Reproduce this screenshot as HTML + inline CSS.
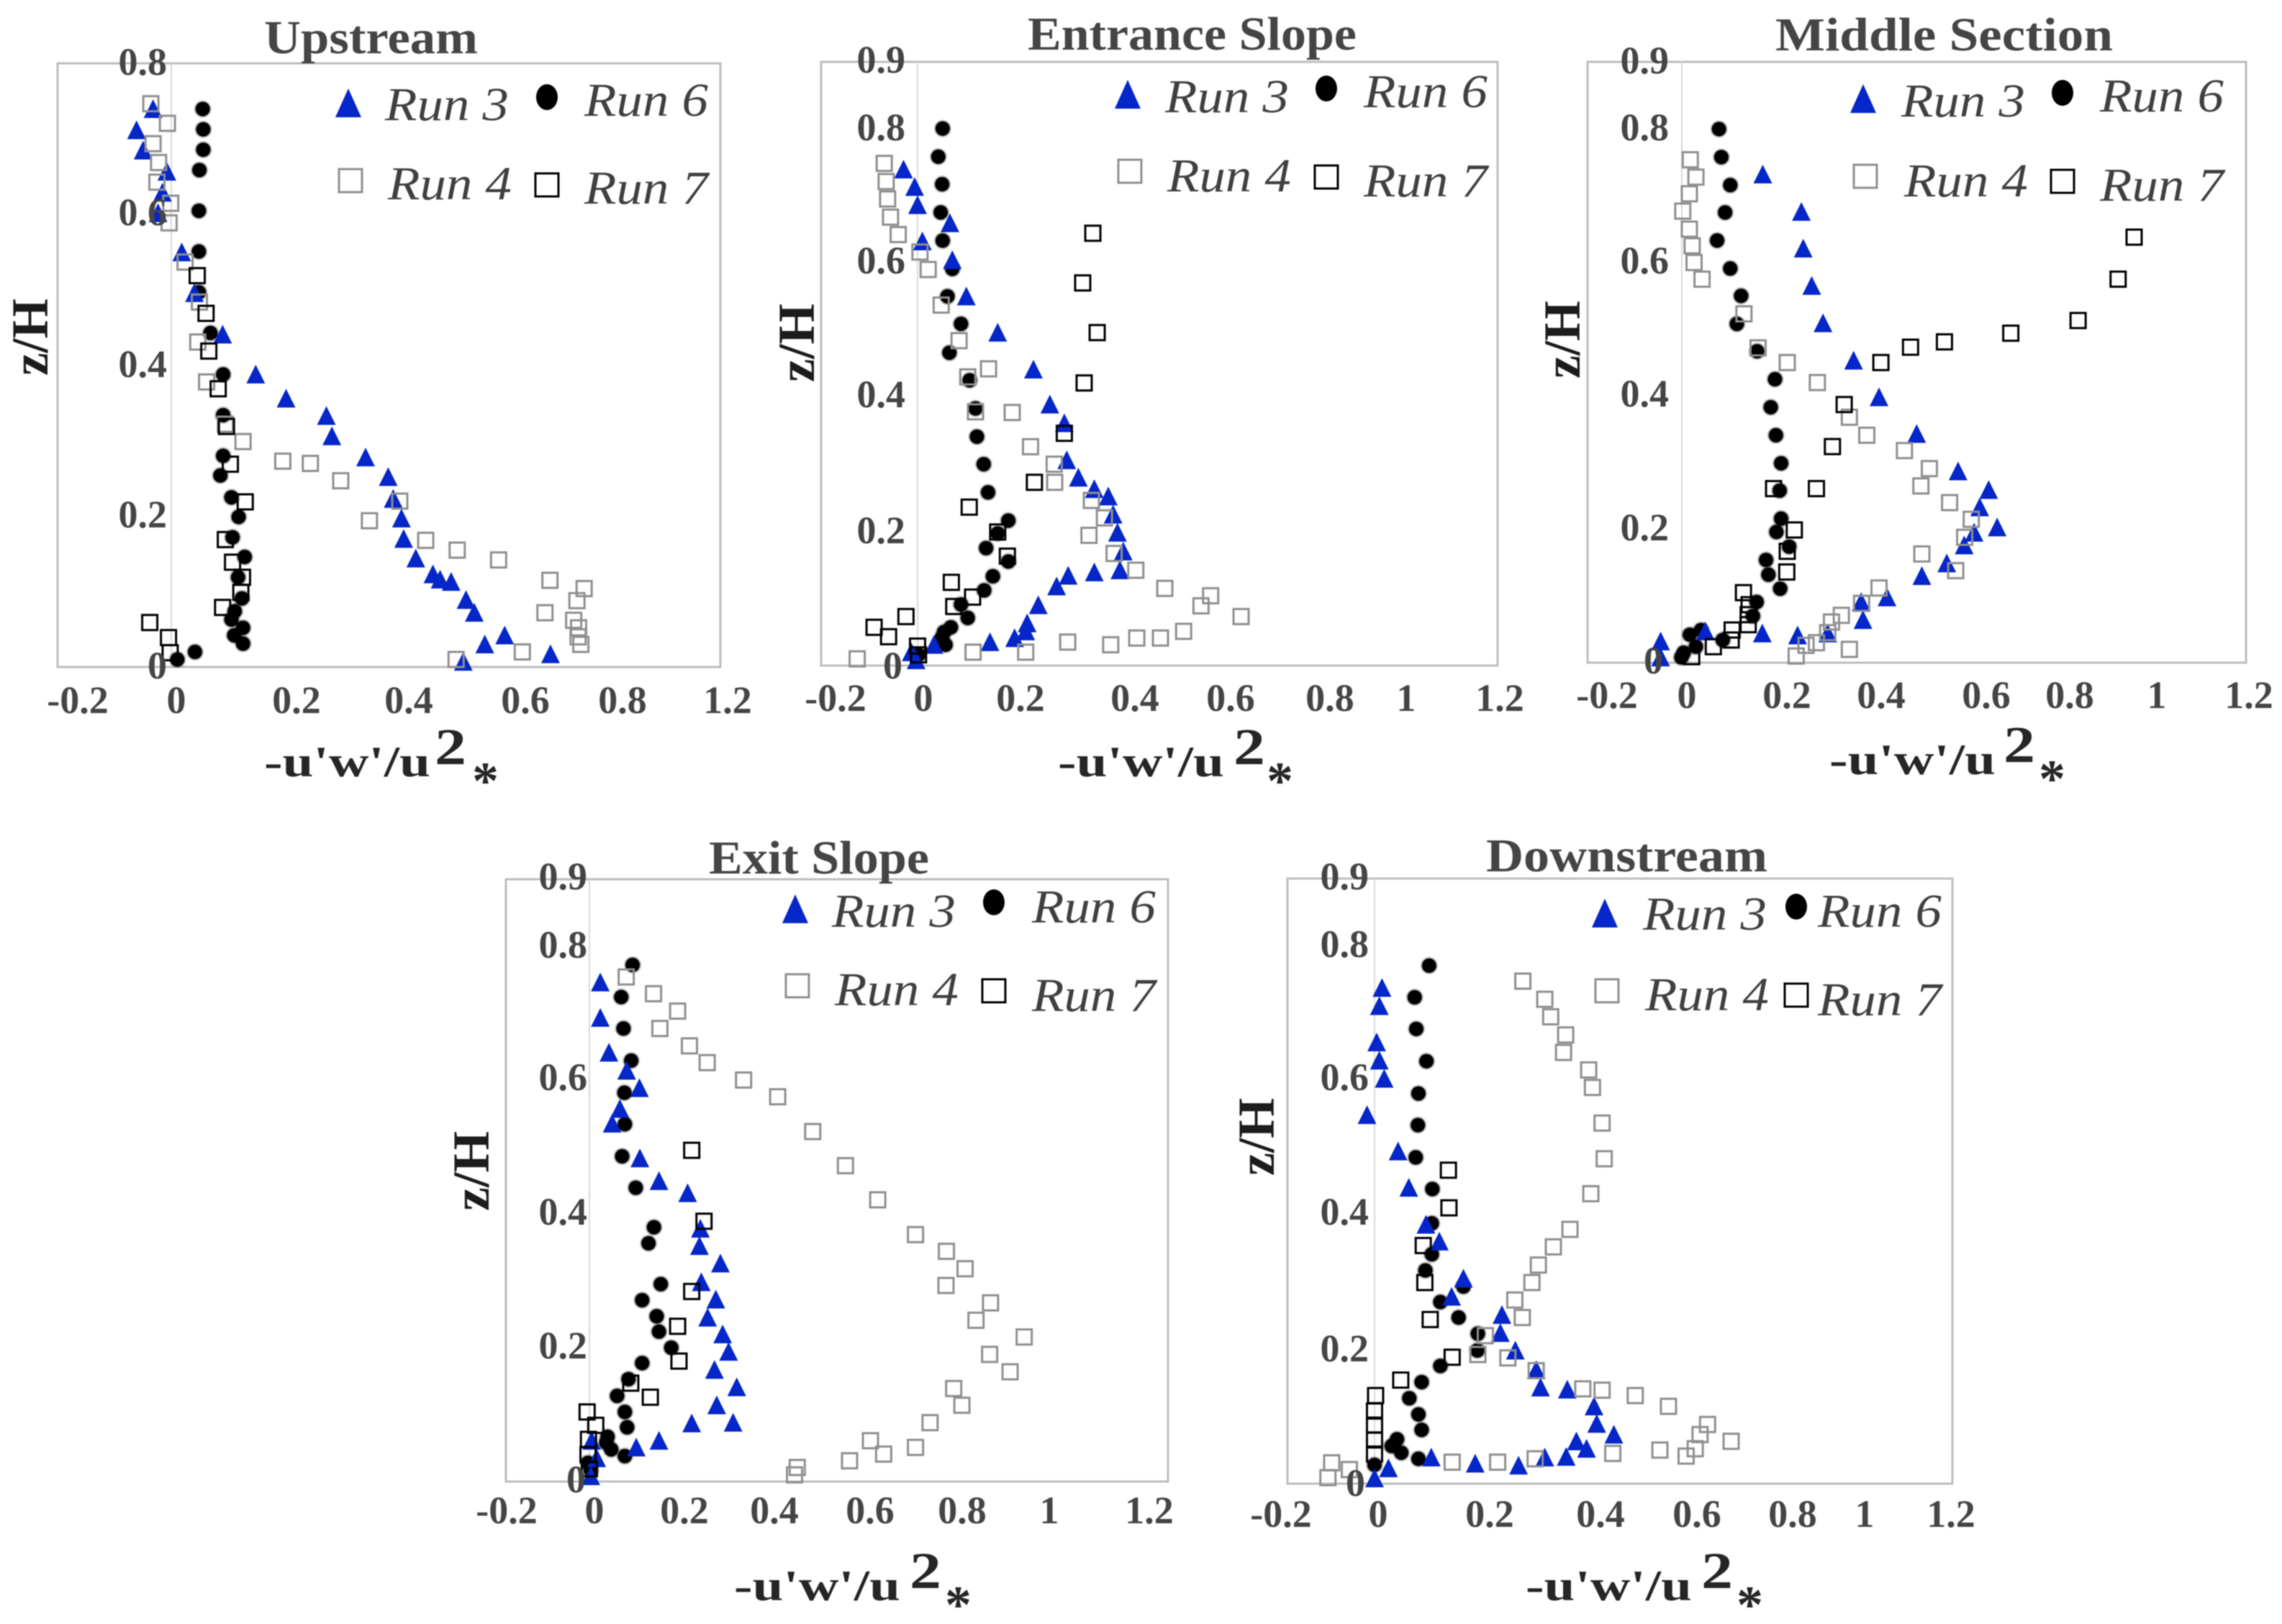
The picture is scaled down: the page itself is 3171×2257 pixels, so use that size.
<!DOCTYPE html>
<html lang="en">
<head>
<meta charset="utf-8">
<title>Reynolds stress profiles</title>
<style>
html,body{margin:0;padding:0;background:#fff;width:3171px;height:2257px;overflow:hidden}
svg{display:block;filter:blur(.8px)}
text{font-family:"Liberation Serif","DejaVu Serif",serif}
.title{font-size:66px;font-weight:700;fill:#454545}
.tick{font-size:54px;font-weight:700;fill:#454545}
.xt{text-anchor:middle}
.yt{text-anchor:end}
.axis{font-size:72px;font-weight:700;fill:#1c1c1c}
.xlab{font-size:60px;font-weight:700;fill:#262626}
.sup{font-size:72px;font-weight:700;fill:#262626}
.star{font-size:74px;font-weight:700;fill:#262626}
.leg{font-size:66px;font-style:italic;fill:#404040}
</style>
</head>
<body>
<svg id="chart" xmlns="http://www.w3.org/2000/svg" width="3171" height="2257" viewBox="0 0 3171 2257">
<rect width="3171" height="2257" fill="#fff"/>
<g id="frames"></g>
<g id="marks"></g>

<g>
<text class="title" x="367" y="74" textLength="297" lengthAdjust="spacingAndGlyphs">Upstream</text>
<text class="axis" transform="translate(66,522) rotate(-90)" textLength="107" lengthAdjust="spacingAndGlyphs">z/H</text>
<text class="xlab" x="367" y="1079" textLength="231" lengthAdjust="spacingAndGlyphs">-u'w'/u</text>
<text class="sup" x="604" y="1062" textLength="44" lengthAdjust="spacingAndGlyphs">2</text>
<text class="star" x="656" y="1110">*</text>
<g class="tick xt"><text x="108" y="991">-0.2</text><text x="245" y="991">0</text><text x="412" y="991">0.2</text><text x="568" y="991">0.4</text><text x="730" y="991">0.6</text><text x="865" y="991">0.8</text><text x="1011" y="991">1.2</text></g>
<g class="tick yt"><text x="232" y="104">0.8</text><text x="232" y="313">0.6</text><text x="232" y="524">0.4</text><text x="232" y="733">0.2</text><text x="232" y="943">0</text></g>
</g>

<g>
<text class="title" x="1428" y="69" textLength="457" lengthAdjust="spacingAndGlyphs">Entrance Slope</text>
<text class="axis" transform="translate(1131,531) rotate(-90)" textLength="109" lengthAdjust="spacingAndGlyphs">z/H</text>
<text class="xlab" x="1470" y="1079" textLength="231" lengthAdjust="spacingAndGlyphs">-u'w'/u</text>
<text class="sup" x="1714" y="1062" textLength="44" lengthAdjust="spacingAndGlyphs">2</text>
<text class="star" x="1760" y="1110">*</text>
<g class="tick xt"><text x="1161" y="988">-0.2</text><text x="1283" y="988">0</text><text x="1418" y="988">0.2</text><text x="1577" y="988">0.4</text><text x="1710" y="988">0.6</text><text x="1848" y="988">0.8</text><text x="1954" y="988">1</text><text x="2084" y="988">1.2</text></g>
<g class="tick yt"><text x="1258" y="101">0.9</text><text x="1258" y="195">0.8</text><text x="1258" y="380">0.6</text><text x="1258" y="566">0.4</text><text x="1258" y="755">0.2</text><text x="1254" y="943">0</text></g>
</g>

<g>
<text class="title" x="2467" y="70" textLength="469" lengthAdjust="spacingAndGlyphs">Middle Section</text>
<text class="axis" transform="translate(2195,526) rotate(-90)" textLength="108" lengthAdjust="spacingAndGlyphs">z/H</text>
<text class="xlab" x="2542" y="1076" textLength="231" lengthAdjust="spacingAndGlyphs">-u'w'/u</text>
<text class="sup" x="2784" y="1059" textLength="44" lengthAdjust="spacingAndGlyphs">2</text>
<text class="star" x="2833" y="1107">*</text>
<g class="tick xt"><text x="2233" y="984">-0.2</text><text x="2344" y="984">0</text><text x="2483" y="984">0.2</text><text x="2614" y="984">0.4</text><text x="2760" y="984">0.6</text><text x="2876" y="984">0.8</text><text x="2997" y="984">1</text><text x="3125" y="984">1.2</text></g>
<g class="tick yt"><text x="2319" y="102">0.9</text><text x="2319" y="195">0.8</text><text x="2319" y="380">0.6</text><text x="2319" y="565">0.4</text><text x="2319" y="751">0.2</text><text x="2311" y="936">0</text></g>
</g>

<g>
<text class="title" x="985" y="1214" textLength="306" lengthAdjust="spacingAndGlyphs">Exit Slope</text>
<text class="axis" transform="translate(679,1683) rotate(-90)" textLength="111" lengthAdjust="spacingAndGlyphs">z/H</text>
<text class="xlab" x="1020" y="2224" textLength="231" lengthAdjust="spacingAndGlyphs">-u'w'/u</text>
<text class="sup" x="1264" y="2207" textLength="44" lengthAdjust="spacingAndGlyphs">2</text>
<text class="star" x="1313" y="2255">*</text>
<g class="tick xt"><text x="704" y="2117">-0.2</text><text x="826" y="2117">0</text><text x="951" y="2117">0.2</text><text x="1076" y="2117">0.4</text><text x="1209" y="2117">0.6</text><text x="1337" y="2117">0.8</text><text x="1458" y="2117">1</text><text x="1597" y="2117">1.2</text></g>
<g class="tick yt"><text x="816" y="1236">0.9</text><text x="816" y="1331">0.8</text><text x="816" y="1515">0.6</text><text x="816" y="1702">0.4</text><text x="816" y="1888">0.2</text><text x="814" y="2074">0</text></g>
</g>

<g>
<text class="title" x="2065" y="1211" textLength="391" lengthAdjust="spacingAndGlyphs">Downstream</text>
<text class="axis" transform="translate(1770,1634) rotate(-90)" textLength="108" lengthAdjust="spacingAndGlyphs">z/H</text>
<text class="xlab" x="2120" y="2224" textLength="231" lengthAdjust="spacingAndGlyphs">-u'w'/u</text>
<text class="sup" x="2364" y="2207" textLength="44" lengthAdjust="spacingAndGlyphs">2</text>
<text class="star" x="2413" y="2255">*</text>
<g class="tick xt"><text x="1780" y="2122">-0.2</text><text x="1915" y="2122">0</text><text x="2070" y="2122">0.2</text><text x="2224" y="2122">0.4</text><text x="2358" y="2122">0.6</text><text x="2491" y="2122">0.8</text><text x="2591" y="2122">1</text><text x="2711" y="2122">1.2</text></g>
<g class="tick yt"><text x="1902" y="1236">0.9</text><text x="1902" y="1330">0.8</text><text x="1902" y="1515">0.6</text><text x="1902" y="1702">0.4</text><text x="1902" y="1892">0.2</text><text x="1897" y="2079">0</text></g>
</g>

<g>
<polygon points="-18,20 0,-20 18,20" transform="translate(484,143)" fill="#0526c8"/>
<text class="leg" x="535" y="167" textLength="172" lengthAdjust="spacingAndGlyphs">Run 3</text>
<ellipse cx="760" cy="135" rx="15" ry="18" fill="#000"/>
<text class="leg" x="812" y="161" textLength="172" lengthAdjust="spacingAndGlyphs">Run 6</text>
<rect x="471" y="235" width="32" height="32" fill="#fff" stroke="#8f8f8f" stroke-width="3"/>
<text class="leg" x="539" y="277" textLength="172" lengthAdjust="spacingAndGlyphs">Run 4</text>
<rect x="744" y="241" width="32" height="32" fill="#fff" stroke="#000" stroke-width="3"/>
<text class="leg" x="812" y="283" textLength="172" lengthAdjust="spacingAndGlyphs">Run 7</text>
</g>
<g>
<polygon points="-18,20 0,-20 18,20" transform="translate(1567,131)" fill="#0526c8"/>
<text class="leg" x="1619" y="156" textLength="172" lengthAdjust="spacingAndGlyphs">Run 3</text>
<ellipse cx="1843" cy="123" rx="15" ry="18" fill="#000"/>
<text class="leg" x="1895" y="149" textLength="172" lengthAdjust="spacingAndGlyphs">Run 6</text>
<rect x="1554" y="222" width="32" height="32" fill="#fff" stroke="#8f8f8f" stroke-width="3"/>
<text class="leg" x="1622" y="266" textLength="172" lengthAdjust="spacingAndGlyphs">Run 4</text>
<rect x="1827" y="230" width="32" height="32" fill="#fff" stroke="#000" stroke-width="3"/>
<text class="leg" x="1895" y="273" textLength="172" lengthAdjust="spacingAndGlyphs">Run 7</text>
</g>
<g>
<polygon points="-18,20 0,-20 18,20" transform="translate(2589,137)" fill="#0526c8"/>
<text class="leg" x="2642" y="162" textLength="172" lengthAdjust="spacingAndGlyphs">Run 3</text>
<ellipse cx="2866" cy="129" rx="15" ry="18" fill="#000"/>
<text class="leg" x="2918" y="155" textLength="172" lengthAdjust="spacingAndGlyphs">Run 6</text>
<rect x="2576" y="229" width="32" height="32" fill="#fff" stroke="#8f8f8f" stroke-width="3"/>
<text class="leg" x="2646" y="273" textLength="172" lengthAdjust="spacingAndGlyphs">Run 4</text>
<rect x="2850" y="236" width="32" height="32" fill="#fff" stroke="#000" stroke-width="3"/>
<text class="leg" x="2918" y="279" textLength="172" lengthAdjust="spacingAndGlyphs">Run 7</text>
</g>
<g>
<polygon points="-18,20 0,-20 18,20" transform="translate(1105,1263)" fill="#0526c8"/>
<text class="leg" x="1156" y="1288" textLength="172" lengthAdjust="spacingAndGlyphs">Run 3</text>
<ellipse cx="1381" cy="1254" rx="15" ry="18" fill="#000"/>
<text class="leg" x="1434" y="1282" textLength="172" lengthAdjust="spacingAndGlyphs">Run 6</text>
<rect x="1092" y="1354" width="32" height="32" fill="#fff" stroke="#8f8f8f" stroke-width="3"/>
<text class="leg" x="1160" y="1397" textLength="172" lengthAdjust="spacingAndGlyphs">Run 4</text>
<rect x="1365" y="1361" width="32" height="32" fill="#fff" stroke="#000" stroke-width="3"/>
<text class="leg" x="1434" y="1405" textLength="172" lengthAdjust="spacingAndGlyphs">Run 7</text>
</g>
<g>
<polygon points="-18,20 0,-20 18,20" transform="translate(2230,1269)" fill="#0526c8"/>
<text class="leg" x="2283" y="1292" textLength="172" lengthAdjust="spacingAndGlyphs">Run 3</text>
<ellipse cx="2496" cy="1260" rx="15" ry="18" fill="#000"/>
<text class="leg" x="2526" y="1288" textLength="172" lengthAdjust="spacingAndGlyphs">Run 6</text>
<rect x="2217" y="1361" width="32" height="32" fill="#fff" stroke="#8f8f8f" stroke-width="3"/>
<text class="leg" x="2286" y="1404" textLength="172" lengthAdjust="spacingAndGlyphs">Run 4</text>
<rect x="2480" y="1367" width="32" height="32" fill="#fff" stroke="#000" stroke-width="3"/>
<text class="leg" x="2526" y="1411" textLength="172" lengthAdjust="spacingAndGlyphs">Run 7</text>
</g>
</svg>

<script>
const upstreamRun3X=[-.033,-.063,-.051,-.008,-.016,-.024,.019,.042,.093,.153,.208,.281,.291,.352,.393,.402,.417,.421,.443,.474,.487,.507,.534,.549,.568,.604,.687,.529];
const upstreamRun3Z=[.740,.712,.685,.657,.629,.602,.550,.496,.441,.388,.356,.333,.306,.278,.252,.223,.197,.170,.144,.123,.116,.113,.089,.072,.030,.042,.017,.007];
const upstreamRun4X=[-.037,-.007,-.033,-.023,-.026,-.001,-.004,.025,.051,.048,.064,.098,.130,.202,.252,.307,.414,.359,.461,.518,.593,.686,.748,.735,.677,.729,.738,.737,.742,.636,.516];
const upstreamRun4Z=[.747,.721,.694,.669,.643,.615,.589,.537,.484,.431,.378,.322,.299,.273,.270,.247,.220,.194,.168,.155,.142,.115,.104,.088,.072,.062,.052,.040,.030,.020,.010];
const upstreamRun6X=[.057,.058,.058,.051,.050,.050,.050,.071,.094,.094,.094,.089,.109,.122,.111,.133,.121,.128,.115,.109,.130,.114,.130,.043,.011];
const upstreamRun6Z=[.740,.713,.686,.659,.605,.551,.497,.443,.388,.334,.280,.254,.225,.199,.172,.146,.119,.091,.074,.063,.052,.042,.031,.020,.010];
const upstreamRun7X=[.047,.063,.068,.085,.100,.107,.134,.098,.111,.129,.126,.093,-.039,-.005,-.002];
const upstreamRun7Z=[.519,.469,.419,.369,.319,.269,.219,.169,.139,.119,.099,.079,.059,.039,.019];

const entranceRun3X=[-.029,-.006,0,.067,.010,.072,.101,.166,.240,.274,.304,.309,.333,.366,.395,.405,.414,.426,.419,.366,.312,.288,.250,.227,.224,.201,.150,.034,-.013,-.003];
const entranceRun3Z=[.739,.713,.686,.659,.632,.604,.550,.496,.441,.389,.361,.306,.280,.263,.252,.225,.198,.170,.142,.139,.134,.118,.090,.063,.051,.041,.035,.031,.020,.008];
const entranceRun4X=[-.069,-.065,-.062,-.056,-.040,.005,.022,.049,.086,.104,.147,.120,.196,.234,.283,.284,.360,.387,.355,.407,.452,.512,.607,.587,.670,.551,.503,.454,.400,.311,.224,.115,-.125];
const entranceRun4Z=[.748,.721,.695,.668,.642,.616,.590,.537,.484,.430,.442,.378,.377,.326,.300,.273,.246,.220,.194,.167,.142,.115,.104,.089,.073,.051,.041,.041,.031,.035,.020,.020,.010];
const entranceRun6X=[.052,.043,.051,.048,.052,.072,.062,.090,.066,.108,.120,.123,.137,.146,.188,.166,.142,.188,.156,.138,.090,.104,.069,.055,.050,.058,.002];
const entranceRun6Z=[.800,.758,.717,.675,.633,.591,.550,.509,.466,.425,.383,.341,.300,.258,.216,.197,.175,.155,.133,.112,.091,.071,.057,.050,.041,.031,.016];
const entranceRun7X=[.363,.342,.372,.345,.304,.242,.107,.166,.186,.070,.114,.075,-.024,-.090,-.060,0,.002];
const entranceRun7Z=[.644,.570,.496,.421,.346,.273,.236,.199,.163,.124,.102,.088,.073,.057,.043,.029,.016];

const middleRun3X=[.172,.254,.258,.276,.300,.365,.419,.499,.587,.652,.633,.670,.621,.600,.563,.510,.436,.381,.385,.310,.246,.171,.050,-.045,-.045];
const middleRun3Z=[.732,.676,.621,.565,.509,.453,.398,.343,.287,.259,.233,.203,.195,.176,.149,.130,.098,.091,.064,.044,.041,.044,.047,.032,.008];
const middleRun4X=[.018,.030,.016,.002,.016,.022,.026,.043,.132,.162,.224,.288,.356,.393,.473,.526,.508,.569,.615,.601,.510,.582,.419,.382,.339,.318,.310,.286,.264,.243,.356];
const middleRun4Z=[.754,.728,.703,.677,.650,.625,.600,.575,.523,.472,.450,.420,.368,.341,.318,.291,.265,.240,.215,.188,.163,.138,.112,.089,.071,.061,.045,.030,.026,.010,.020];
const middleRun6X=[.079,.084,.103,.092,.075,.103,.126,.117,.160,.198,.189,.200,.211,.208,.211,.201,.228,.179,.184,.209,.159,.151,.087,.041,.017,.030,.004,-.001];
const middleRun6Z=[.800,.758,.716,.675,.633,.591,.550,.508,.467,.425,.383,.341,.299,.258,.216,.196,.174,.154,.132,.111,.091,.070,.034,.049,.042,.024,.015,.008];
const middleRun7X=[.961,.927,.842,.699,.558,.486,.423,.345,.320,.286,.195,.239,.224,.223,.131,.143,.141,.141,.107,.105,.067,.021];
const middleRun7Z=[.638,.575,.513,.494,.481,.473,.450,.387,.324,.261,.261,.199,.167,.136,.105,.087,.072,.057,.049,.034,.024,.009];

const exitRun3X=[.024,.024,.043,.082,.110,.067,.050,.111,.153,.216,.244,.242,.288,.246,.278,.260,.293,.306,.275,.324,.280,.316,.225,.153,.103,.016,.005,.003];
const exitRun3Z=[.746,.693,.641,.614,.588,.557,.535,.483,.449,.431,.378,.352,.326,.298,.272,.245,.220,.194,.167,.141,.114,.088,.087,.061,.051,.035,.061,.008];
const exitRun4X=[.081,.141,.194,.155,.220,.259,.339,.414,.491,.563,.634,.717,.785,.826,.784,.882,.850,.956,.880,.925,.801,.819,.749,.717,.618,.647,.572,.457,.451];
const exitRun4Z=[.754,.729,.703,.677,.651,.626,.600,.575,.523,.472,.421,.369,.344,.318,.293,.267,.241,.216,.190,.164,.139,.114,.088,.051,.061,.041,.031,.021,.010];
const exitRun6X=[.095,.070,.075,.092,.077,.078,.072,.102,.142,.130,.157,.116,.148,.153,.180,.116,.086,.061,.078,.083,.040,.037,.048,.078,-.003,.003];
const exitRun6Z=[.772,.724,.677,.629,.581,.534,.486,.439,.380,.356,.295,.271,.247,.224,.200,.177,.153,.128,.104,.081,.067,.058,.048,.038,.028,.017];
const exitRun7X=[.225,.252,.225,.194,.197,.091,.134,-.005,.014,-.002,-.003,0];
const exitRun7Z=[.495,.389,.284,.232,.180,.147,.126,.104,.084,.063,.040,.019];

const downstreamRun3X=[.014,.009,.004,.009,.018,-.014,.044,.064,.096,.121,.166,.144,.238,.235,.263,.302,.310,.360,.410,.415,.447,.377,.396,.358,.318,.269,.188,.106,.026,0];
const downstreamRun3Z=[.737,.710,.656,.629,.602,.548,.494,.440,.385,.360,.305,.278,.251,.224,.198,.169,.143,.140,.115,.089,.073,.063,.052,.040,.039,.027,.030,.039,.023,.008];
const downstreamRun4X=[.277,.318,.329,.357,.353,.400,.407,.425,.429,.404,.365,.334,.306,.294,.262,.276,.207,.193,.249,.302,.389,.425,.487,.549,.622,.608,.666,.599,.582,.533,.445,.300,.230,.145,-.047,-.080,-.087];
const downstreamRun4Z=[.747,.720,.694,.667,.641,.615,.589,.536,.483,.431,.378,.352,.325,.299,.273,.247,.220,.192,.187,.168,.141,.139,.131,.115,.088,.073,.063,.052,.041,.050,.045,.037,.032,.032,.021,.031,.009];
const downstreamRun6X=[.102,.075,.078,.097,.082,.081,.077,.108,.107,.107,.095,.166,.123,.157,.193,.192,.123,.088,.065,.082,.088,.042,.032,.050,.082,0];
const downstreamRun6Z=[.770,.723,.676,.628,.580,.533,.485,.438,.387,.341,.317,.293,.270,.247,.223,.198,.175,.151,.127,.103,.080,.066,.056,.046,.037,.028];
const downstreamRun7X=[.138,.139,.091,.094,.104,.145,.049,.002,0,0,0,0];
const downstreamRun7Z=[.466,.410,.354,.299,.244,.188,.154,.131,.108,.087,.065,.044];

const SVG_NS='http://www.w3.org/2000/svg';
const framesLayer=document.getElementById('frames');
const marksLayer=document.getElementById('marks');

function drawTriangle(cx,cy){
  const el=document.createElementNS(SVG_NS,'polygon');
  
  
  el.setAttribute('points',(cx-13)+','+(cy+12.5)+' '+cx+','+(cy-13.5)+' '+(cx+13)+','+(cy+12.5));
  el.setAttribute('fill','#0526c8');
  return el;
}
function drawCircle(cx,cy){
  const el=document.createElementNS(SVG_NS,'ellipse');
  
  
  el.setAttribute('cx',cx);
  el.setAttribute('cy',cy);
  el.setAttribute('rx',10);
  el.setAttribute('ry',10);
  el.setAttribute('fill','#000');
  el.setAttribute('stroke','#000');
  el.setAttribute('stroke-opacity','.28');
  el.setAttribute('stroke-width','4');
  return el;
}
function drawGraySquare(cx,cy){
  const el=document.createElementNS(SVG_NS,'rect');
  
  
  el.setAttribute('x',cx-10.5);
  el.setAttribute('y',cy-10.5);
  el.setAttribute('width',21);
  el.setAttribute('height',21);
  el.setAttribute('fill','none');
  el.setAttribute('stroke','#8f8f8f');
  el.setAttribute('stroke-width','3');
  return el;
}
function drawBlackSquare(cx,cy){
  const el=document.createElementNS(SVG_NS,'rect');
  
  
  el.setAttribute('x',cx-10.5);
  el.setAttribute('y',cy-10.5);
  el.setAttribute('width',21);
  el.setAttribute('height',21);
  el.setAttribute('fill','none');
  el.setAttribute('stroke','#000');
  el.setAttribute('stroke-width','3');
  return el;
}

function drawSeries(group,xs,zs,xAxis,yAxis,draw){
  xs.forEach(function(v,i){
    group.appendChild(draw(xAxis(v),yAxis(zs[i])));
  });
}

function drawPanel(name,box,x0,xScale,y0,yScale,run3,run4,run6,run7){
  const xAxis=function(v){return x0+v*xScale;};
  const yAxis=function(v){return y0-v*yScale;};

  const frame=document.createElementNS(SVG_NS,'rect');
  
  
  frame.setAttribute('x',box.left);
  frame.setAttribute('y',box.top);
  frame.setAttribute('width',box.right-box.left);
  frame.setAttribute('height',box.bottom-box.top);
  frame.setAttribute('fill','#fff');
  frame.setAttribute('stroke','#bdbdbd');
  frame.setAttribute('stroke-width','3');
  framesLayer.appendChild(frame);

  const zero=document.createElementNS(SVG_NS,'line');
  
  
  zero.setAttribute('x1',xAxis(0));
  zero.setAttribute('x2',xAxis(0));
  zero.setAttribute('y1',box.top);
  zero.setAttribute('y2',box.bottom);
  zero.setAttribute('stroke','#d9d9d9');
  zero.setAttribute('stroke-width','2');
  framesLayer.appendChild(zero);

  const g=document.createElementNS(SVG_NS,'g');
  
  
  marksLayer.appendChild(g);

  drawSeries(g,run6[0],run6[1],xAxis,yAxis,drawCircle);
  drawSeries(g,run3[0],run3[1],xAxis,yAxis,drawTriangle);
  drawSeries(g,run4[0],run4[1],xAxis,yAxis,drawGraySquare);
  drawSeries(g,run7[0],run7[1],xAxis,yAxis,drawBlackSquare);
}

drawPanel('upstream',{left:80,right:1001,top:88,bottom:927},238,767,927,1048,
  [upstreamRun3X,upstreamRun3Z],[upstreamRun4X,upstreamRun4Z],[upstreamRun6X,upstreamRun6Z],[upstreamRun7X,upstreamRun7Z]);
drawPanel('entrance-slope',{left:1141,right:2081,top:86,bottom:925},1275,671,925,933,
  [entranceRun3X,entranceRun3Z],[entranceRun4X,entranceRun4Z],[entranceRun6X,entranceRun6Z],[entranceRun7X,entranceRun7Z]);
drawPanel('middle-section',{left:2206,right:3121,top:86,bottom:921},2337,654,921,927,
  [middleRun3X,middleRun3Z],[middleRun4X,middleRun4Z],[middleRun6X,middleRun6Z],[middleRun7X,middleRun7Z]);
drawPanel('exit-slope',{left:703,right:1623,top:1222,bottom:2059},819,632,2059,930,
  [exitRun3X,exitRun3Z],[exitRun4X,exitRun4Z],[exitRun6X,exitRun6Z],[exitRun7X,exitRun7Z]);
drawPanel('downstream',{left:1789,right:2713,top:1221,bottom:2062},1910,744,2062,935,
  [downstreamRun3X,downstreamRun3Z],[downstreamRun4X,downstreamRun4Z],[downstreamRun6X,downstreamRun6Z],[downstreamRun7X,downstreamRun7Z]);
</script>
</body>
</html>
